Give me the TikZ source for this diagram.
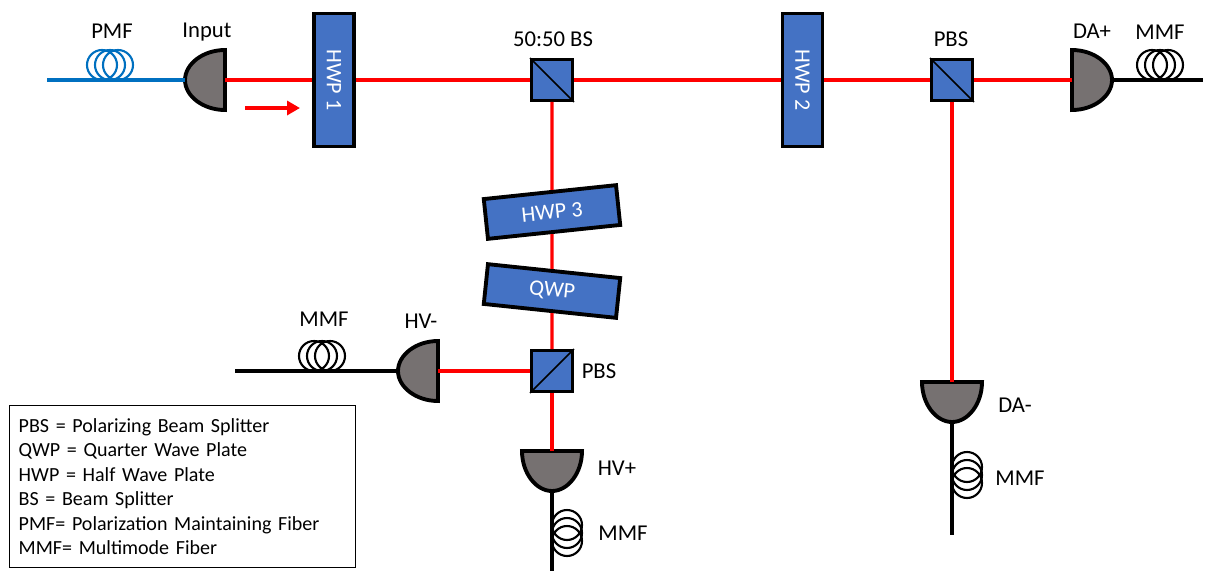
\documentclass[tikz,border=0pt]{standalone}
\usepackage{fontspec}
\setmainfont{Carlito}
\usetikzlibrary{arrows.meta}
\definecolor{plateblue}{HTML}{4472C4}
\definecolor{detgrey}{HTML}{767171}
\definecolor{fiberblue}{HTML}{0070C0}
\tikzset{
  plate/.style={draw=black,line width=2.2pt,fill=plateblue,text=white,inner sep=0pt,
    minimum width=2.66cm,minimum height=.8cm,font=\fontsize{12.6}{14}\selectfont},
  cube/.style={draw=black,line width=1.7pt,fill=plateblue,inner sep=0pt,minimum size=.82cm},
  ray/.style={red,line width=1.8pt},
  fiber/.style={black,line width=1.8pt},
  lbl/.style={inner sep=0pt},
  detector/.pic={
    \draw[line width=2.2pt,fill=detgrey] (0,-30) .. controls (22,-30) and (40,-16) .. (40,0)
      .. controls (40,16) and (22,30) .. (0,30) -- cycle;
    \coordinate (-flat) at (0,0);
    \coordinate (-tip) at (40,0);
  },
  coil/.pic={
    \foreach \dx in {-8,0,8}
      \draw[line width=1.2pt,pic actions] (\dx,-15) circle[radius=.3cm];
  }
}
\begin{document}
\begin{tikzpicture}[x=.02cm,y=-.02cm,font=\fontsize{12.9}{14}\selectfont,>=Stealth]
  \useasboundingbox (0,0) rectangle (1208,572);
  % plates and cubes
  \node[plate,rotate=-90] (hwpa) at (334,80) {HWP 1};
  \node[plate,rotate=-90] (hwpb) at (802.5,80) {HWP 2};
  \node[plate,rotate=6] (hwpc) at (552,212) {HWP 3};
  \node[plate,rotate=-6] (qwp) at (552,291) {QWP};
  \node[cube] (bs) at (552,80) {};
  \node[cube] (pbsa) at (952,80) {};
  \node[cube] (pbsb) at (552,371) {};
  \draw[line width=.9pt] (bs.north west)--(bs.south east);
  \draw[line width=.9pt] (pbsa.north west)--(pbsa.south east);
  \draw[line width=.9pt] (pbsb.south west)--(pbsb.north east);
  % detectors
  \pic[rotate=180] (input) at (225,80) {detector};
  \pic[rotate=180] (hvm) at (438,371) {detector};
  \pic (dap) at (1072,80) {detector};
  \pic[rotate=-90] (hvp) at (552,451) {detector};
  \pic[rotate=-90] (dam) at (952,382) {detector};
  % free fiber ends
  \coordinate (pmfend) at (47,80);
  \coordinate (hvmend) at (235,371);
  \coordinate (dapend) at (1203,80);
  \coordinate (hvpend) at (552,571);
  \coordinate (damend) at (952,535);
  \draw[fiberblue,line width=1.8pt] (pmfend)--(input-tip);
  \draw[fiber] (hvmend)--(hvm-tip);
  \draw[fiber] (dap-tip)--(dapend);
  \draw[fiber] (hvp-tip)--(hvpend);
  \draw[fiber] (dam-tip)--(damend);
  % beam path
  \draw[ray] (input-flat)--(hwpa);
  \draw[ray] (hwpa)--(bs);
  \draw[ray] (bs)--(hwpb);
  \draw[ray] (hwpb)--(pbsa);
  \draw[ray] (pbsa)--(dap-flat);
  \draw[ray] (pbsa)--(dam-flat);
  \draw[ray] (bs)--(hwpc);
  \draw[ray] (hwpc)--(qwp);
  \draw[ray] (qwp)--(pbsb);
  \draw[ray] (pbsb)--(hvm-flat);
  \draw[ray] (pbsb)--(hvp-flat);
  \coordinate (dirstart) at (245,108);
  \coordinate (dirend) at (300,108);
  \draw[red,line width=2.2pt,-{Triangle[length=.26cm,width=.28cm]}] (dirstart)--(dirend);
  % fiber coils
  \pic[draw=fiberblue] at (110,80) {coil};
  \pic[draw=black] at (322,371) {coil};
  \pic[draw=black] at (1160,80) {coil};
  \pic[draw=black,rotate=-90] at (552,533) {coil};
  \pic[draw=black,rotate=-90] at (952,475) {coil};
  % labels
  \node[lbl] (pmflbl) at (112,31) {PMF};
  \node[lbl] (inputlbl) at (207,32) {Input};
  \node[lbl] (bslbl) at (553,39) {50:50 BS};
  \node[lbl] (pbsalbl) at (951,39) {PBS};
  \node[lbl] (daplbl) at (1092,31) {DA+};
  \node[lbl] (mmfa) at (1160,32) {MMF};
  \node[lbl] (mmfb) at (324,319) {MMF};
  \node[lbl] (hvmlbl) at (421,321) {HV-};
  \node[lbl] (pbsblbl) at (599,371) {PBS};
  \node[lbl] (hvplbl) at (617,468) {HV+};
  \node[lbl] (mmfc) at (623,533) {MMF};
  \node[lbl] (damlbl) at (1015,405) {DA-};
  \node[lbl] (mmfd) at (1020,478) {MMF};
  % legend
  \node[draw=black,line width=.8pt,align=left,anchor=north west,inner sep=0pt,
    text width=6.92cm,minimum height=3.24cm,
    font=\fontsize{11.4}{13.9}\selectfont] (legend) at (9,405)
    {\hspace*{.18cm}PBS = Polarizing Beam Splitter\\
     \hspace*{.18cm}QWP = Quarter Wave Plate\\
     \hspace*{.18cm}HWP = Half Wave Plate\\
     \hspace*{.18cm}BS = Beam Splitter\\
     \hspace*{.18cm}PMF= Polarization Maintaining Fiber\\
     \hspace*{.18cm}MMF= Multimode Fiber\par\vspace*{.12cm}};
\end{tikzpicture}
\end{document}
